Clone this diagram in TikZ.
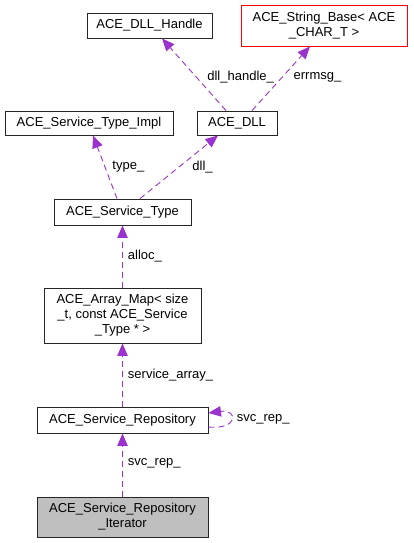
\documentclass[tikz,border=0pt]{standalone}
\usepackage{fontspec}
\setmainfont{Liberation Sans}
\usetikzlibrary{arrows.meta,positioning}
\definecolor{edgepurple}{RGB}{154,50,205}
\definecolor{boxgray}{RGB}{191,191,191}

\begin{document}
\begin{tikzpicture}[x=1pt, y=-1pt,
		class/.style={rectangle, draw=black!85, line width=0.9pt, inner sep=0pt, align=center, font=\fontsize{13}{15}\selectfont},
		lbl/.style={inner sep=0pt, anchor=west, font=\fontsize{13}{15}\selectfont, text=black},
		uses/.style={edgepurple, line width=0.9pt, dash pattern=on 6pt off 4pt},
		->,>={Triangle[length=12.5pt,width=10.5pt]}
		]
	\useasboundingbox (0,0) rectangle (413,543);
	
		% Classes
		\node[class, minimum width=125pt, minimum height=25pt] (DLLH) at (149.5, 25.5) {ACE\_DLL\_Handle};
		\node[class, draw=red, minimum width=166pt, minimum height=41pt] (StrB) at (324, 25.5) {ACE\_String\_Base< ACE\\\_CHAR\_T >};
		\node[class, minimum width=168pt, minimum height=24pt] (STImpl) at (89, 123) {ACE\_Service\_Type\_Impl};
		\node[class, minimum width=80pt, minimum height=24pt] (DLL) at (237, 123) {ACE\_DLL};
		\node[class, minimum width=137pt, minimum height=26pt] (ST) at (122.5, 212) {ACE\_Service\_Type};
		\node[class, minimum width=157pt, minimum height=55pt] (AM) at (122.5, 315.5) {ACE\_Array\_Map< size\\\_t, const ACE\_Service\\\_Type * >};
		\node[class, minimum width=171pt, minimum height=26pt] (Rep) at (122.5, 420) {ACE\_Service\_Repository};
		\node[class, fill=boxgray, minimum width=171pt, minimum height=40pt] (It) at (122.5, 517) {ACE\_Service\_Repository\\\_Iterator};
	
		% Liens
		\draw[uses] ([xshift=-11pt]DLL.north) -- ([xshift=12.5pt]DLLH.south) node[pos=0.47, lbl, xshift=11pt] {dll\_handle\_};
		\draw[uses] ([xshift=15pt]DLL.north) -- ([xshift=-14pt]StrB.south) node[pos=0.52, lbl, xshift=11pt] {errmsg\_};
		\draw[uses] ([xshift=-5.5pt]ST.north) -- ([xshift=4pt]STImpl.south) node[pos=0.5, lbl, xshift=7pt] {type\_};
		\draw[uses] ([xshift=17.5pt]ST.north) -- ([xshift=-19pt]DLL.south) node[pos=0.5, lbl, xshift=13pt] {dll\_};
		\draw[uses] (AM.north) -- (ST.south) node[pos=0.5, lbl, xshift=5pt] {alloc\_};
		\draw[uses] (Rep.north) -- (AM.south) node[pos=0.5, lbl, xshift=5pt] {service\_array\_};
		\draw[uses] ([yshift=-7pt]Rep.east) .. controls +(30,3) and +(30,-4) .. ([yshift=7pt]Rep.east) node[pos=0.5, lbl, xshift=5.5pt] {svc\_rep\_};
		\draw[uses] (It.north) -- (Rep.south) node[pos=0.52, lbl, xshift=5pt] {svc\_rep\_};
	\end{tikzpicture}
\end{document}
